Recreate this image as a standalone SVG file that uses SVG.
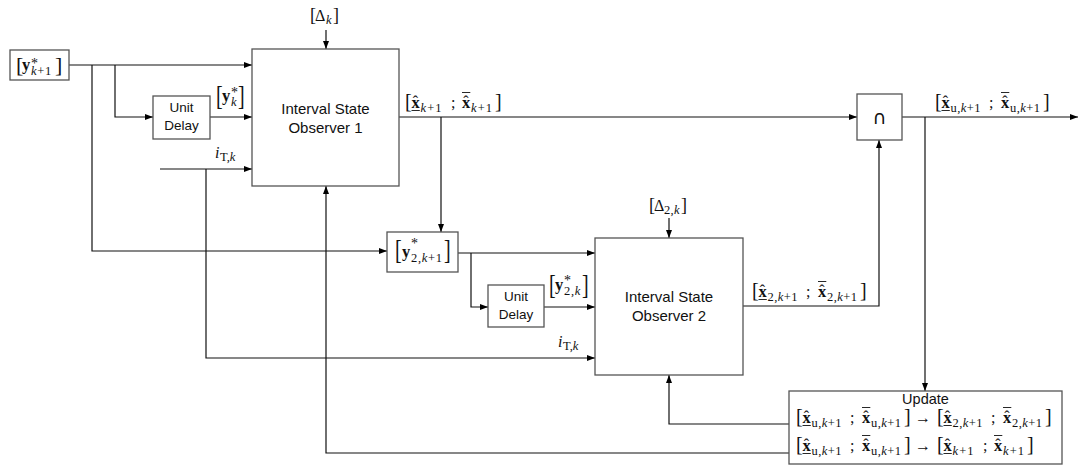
<svg xmlns="http://www.w3.org/2000/svg" width="1078" height="466" viewBox="0 0 1078 466">
<defs>
<marker id="ah" markerWidth="9" markerHeight="8" refX="8" refY="4" orient="auto" markerUnits="userSpaceOnUse"><path d="M0,1 L8,4 L0,7 z" fill="#000"/></marker>
<style>
.box{fill:#fff;stroke:#555;stroke-width:1.3}
.ln{fill:none;stroke:#111;stroke-width:1.2}
.arr{marker-end:url(#ah)}
.sf{font-family:"Liberation Sans",Arial,sans-serif;fill:#111;text-anchor:middle}
.t15{font-size:15px}
.t13{font-size:13.5px}
.m{font-family:"Liberation Serif","Times New Roman",serif;font-size:16px;fill:#111}
.mb{font-family:"Liberation Serif","Times New Roman",serif;font-size:16.5px;font-weight:bold;fill:#111}
.mi{font-family:"Liberation Serif","Times New Roman",serif;font-size:16px;font-style:italic;fill:#111}
.s{font-family:"Liberation Serif","Times New Roman",serif;font-size:12.5px;font-style:italic;fill:#111}
.ss{font-family:"Liberation Serif","Times New Roman",serif;fill:#111}
.ast{font-size:14px;font-style:normal}
.sub{font-size:12.5px;font-style:italic;letter-spacing:0.7px}
.rm{font-style:normal}
.br{font-family:"Liberation Serif","Times New Roman",serif;font-size:20px;fill:#111}
.hat{font-family:"Liberation Serif","Times New Roman",serif;font-size:16px;fill:#111;text-anchor:middle}
.bar{fill:#111}
</style>
</defs>

<!-- connectors -->
<g id="connectors">
<path class="ln arr" d="M69,65 H252"/>
<path class="ln arr" d="M92,65 V251 H387"/>
<path class="ln arr" d="M115,65 V117 H153"/>
<path class="ln arr" d="M210,117 H252"/>
<path class="ln arr" d="M160,169 H252"/>
<path class="ln arr" d="M206,169 V358 H595"/>
<path class="ln arr" d="M326,30 V49"/>
<path class="ln arr" d="M789,453 H326 V186"/>
<path class="ln arr" d="M399,117 H857"/>
<path class="ln arr" d="M441,117 V232"/>
<path class="ln arr" d="M458,253 H595"/>
<path class="ln arr" d="M471,253 V307 H488"/>
<path class="ln arr" d="M544,307 H595"/>
<path class="ln arr" d="M669,218 V238"/>
<path class="ln arr" d="M743,306 H879 V140"/>
<path class="ln arr" d="M902,117 H1078"/>
<path class="ln arr" d="M925,117 V391"/>
<path class="ln arr" d="M789,424 H669 V375"/>
</g>

<!-- input y*_{k+1} -->
<g id="y-in">
<rect class="box" x="10" y="50" width="59" height="30"/>
<text class="br" x="16" y="72" style="font-size:22px">[</text>
<text class="mb" x="22" y="70">y</text>
<text class="ss"><tspan class="ast" x="31" y="68">*</tspan><tspan class="sub" x="31" y="75">k<tspan class="rm">+1</tspan></tspan></text>
<text class="br" x="55" y="72" style="font-size:22px">]</text>
</g>

<!-- unit delay 1 -->
<g id="delay1">
<rect class="box" x="153" y="96" width="57" height="43"/>
<text class="sf t13" x="181.5" y="112">Unit</text>
<text class="sf t13" x="181.5" y="130">Delay</text>
</g>

<!-- label y*_k -->
<g id="lbl-yk">
<text class="br" transform="translate(216,105) scale(1,1.35)">[</text>
<text class="mb" x="222" y="101">y</text>
<text class="ss"><tspan class="ast" x="231" y="97">*</tspan><tspan class="sub" x="231" y="106">k</tspan></text>
<text class="br" transform="translate(238,105) scale(1,1.35)">]</text>
</g>

<!-- i_T,k labels -->
<g id="lbl-it1">
<text class="mi" x="215" y="158">i</text>
<text class="s" x="220" y="161"><tspan class="rm">T,</tspan>k</text>
</g>
<g id="lbl-it2">
<text class="mi" x="558" y="347">i</text>
<text class="s" x="563" y="350"><tspan class="rm">T,</tspan>k</text>
</g>

<!-- Delta_k -->
<g id="lbl-dk">
<text class="br" x="310" y="21" style="font-size:18px">[</text>
<text class="m" x="315" y="21">Δ</text>
<text class="s" x="326" y="24">k</text>
<text class="br" x="333" y="21" style="font-size:18px">]</text>
</g>

<!-- Observer 1 -->
<g id="obs1">
<rect class="box" x="252" y="49" width="147" height="137"/>
<text class="sf t15" x="325.5" y="114">Interval State</text>
<text class="sf t15" x="325.5" y="133">Observer 1</text>
</g>

<!-- label x_{k+1} -->
<g id="lbl-xk1" transform="translate(405,108)">
<text class="br" x="0" y="0">[</text>
<text class="mb" x="6.5" y="0">x</text><text class="hat" x="10.5" y="-1">ˆ</text><rect class="bar" x="6.5" y="2" width="8.3" height="0.9"/>
<text class="s" x="15.5" y="3.5" textLength="21">k<tspan class="rm">+1</tspan></text>
<text class="m" x="46" y="0">;</text>
<text class="mb" x="57" y="0">x</text><text class="hat" x="61" y="-1">ˆ</text><rect class="bar" x="57" y="-16" width="8.3" height="0.9"/>
<text class="s" x="66" y="3.5" textLength="21">k<tspan class="rm">+1</tspan></text>
<text class="br" x="90" y="0">]</text>
</g>

<!-- intersection -->
<g id="cap">
<rect class="box" x="857" y="94" width="45" height="46"/>
<text x="879.5" y="124" style="font-family:'DejaVu Sans',sans-serif;font-size:19px;text-anchor:middle;fill:#111">∩</text>
</g>

<!-- label x_u -->
<g id="lbl-xu" transform="translate(935,108)">
<text class="br" x="0" y="0">[</text>
<text class="mb" x="6.5" y="0">x</text><text class="hat" x="10.5" y="-1">ˆ</text><rect class="bar" x="6.5" y="2" width="8.3" height="0.9"/>
<text class="s" x="15.5" y="3.5" textLength="30"><tspan class="rm">u,</tspan>k<tspan class="rm">+1</tspan></text>
<text class="m" x="54" y="0">;</text>
<text class="mb" x="66" y="0">x</text><text class="hat" x="70" y="-1">ˆ</text><rect class="bar" x="66" y="-16" width="8.3" height="0.9"/>
<text class="s" x="75" y="3.5" textLength="30"><tspan class="rm">u,</tspan>k<tspan class="rm">+1</tspan></text>
<text class="br" x="108" y="0">]</text>
</g>

<!-- y*_{2,k+1} -->
<g id="y2-in">
<rect class="box" x="387" y="232" width="71" height="40"/>
<text class="br" transform="translate(395,259) scale(1,1.4)">[</text>
<text class="mb" x="402" y="257">y</text>
<text class="ss"><tspan class="ast" x="411" y="248">*</tspan><tspan class="sub" x="411" y="262"><tspan class="rm">2,</tspan>k<tspan class="rm">+1</tspan></tspan></text>
<text class="br" transform="translate(444,259) scale(1,1.4)">]</text>
</g>

<!-- unit delay 2 -->
<g id="delay2">
<rect class="box" x="488" y="285" width="56" height="42"/>
<text class="sf t13" x="516" y="301">Unit</text>
<text class="sf t13" x="516" y="319">Delay</text>
</g>

<!-- y*_{2,k} -->
<g id="lbl-y2k">
<text class="br" transform="translate(549,294) scale(1,1.35)">[</text>
<text class="mb" x="555" y="290">y</text>
<text class="ss"><tspan class="ast" x="564" y="285">*</tspan><tspan class="sub" x="564" y="295"><tspan class="rm">2,</tspan>k</tspan></text>
<text class="br" transform="translate(582,294) scale(1,1.35)">]</text>
</g>

<!-- Delta_2,k -->
<g id="lbl-d2k">
<text class="br" x="649" y="211" style="font-size:18px">[</text>
<text class="m" x="654" y="211">Δ</text>
<text class="s" x="664" y="214" textLength="15.5"><tspan class="rm">2,</tspan>k</text>
<text class="br" x="681" y="211" style="font-size:18px">]</text>
</g>

<!-- Observer 2 -->
<g id="obs2">
<rect class="box" x="595" y="238" width="148" height="137"/>
<text class="sf t15" x="669" y="302">Interval State</text>
<text class="sf t15" x="669" y="321">Observer 2</text>
</g>

<!-- label x_2 -->
<g id="lbl-x2" transform="translate(752,297)">
<text class="br" x="0" y="0">[</text>
<text class="mb" x="6.5" y="0">x</text><text class="hat" x="10.5" y="-1">ˆ</text><rect class="bar" x="6.5" y="2" width="8.3" height="0.9"/>
<text class="s" x="15.5" y="3.5" textLength="30"><tspan class="rm">2,</tspan>k<tspan class="rm">+1</tspan></text>
<text class="m" x="54" y="0">;</text>
<text class="mb" x="66" y="0">x</text><text class="hat" x="70" y="-1">ˆ</text><rect class="bar" x="66" y="-16" width="8.3" height="0.9"/>
<text class="s" x="75" y="3.5" textLength="30"><tspan class="rm">2,</tspan>k<tspan class="rm">+1</tspan></text>
<text class="br" x="108" y="0">]</text>
</g>

<!-- Update -->
<g id="update">
<rect class="box" x="789" y="391" width="273" height="73"/>
<text class="sf" x="925.5" y="404" style="font-size:14.5px">Update</text>
<g transform="translate(796,423)">
<text class="br" x="0" y="0">[</text>
<text class="mb" x="6.5" y="0">x</text><text class="hat" x="10.5" y="-1">ˆ</text><rect class="bar" x="6.5" y="2" width="8.3" height="0.9"/>
<text class="s" x="15.5" y="3.5" textLength="30"><tspan class="rm">u,</tspan>k<tspan class="rm">+1</tspan></text>
<text class="m" x="54" y="0">;</text>
<text class="mb" x="66" y="0">x</text><text class="hat" x="70" y="-1">ˆ</text><rect class="bar" x="66" y="-16" width="8.3" height="0.9"/>
<text class="s" x="75" y="3.5" textLength="30"><tspan class="rm">u,</tspan>k<tspan class="rm">+1</tspan></text>
<text class="br" x="108" y="0">]</text>
<text class="m" x="119" y="0">→</text>
<g transform="translate(141,0)">
<text class="br" x="0" y="0">[</text>
<text class="mb" x="6.5" y="0">x</text><text class="hat" x="10.5" y="-1">ˆ</text><rect class="bar" x="6.5" y="2" width="8.3" height="0.9"/>
<text class="s" x="15.5" y="3.5" textLength="30"><tspan class="rm">2,</tspan>k<tspan class="rm">+1</tspan></text>
<text class="m" x="54" y="0">;</text>
<text class="mb" x="66" y="0">x</text><text class="hat" x="70" y="-1">ˆ</text><rect class="bar" x="66" y="-16" width="8.3" height="0.9"/>
<text class="s" x="75" y="3.5" textLength="30"><tspan class="rm">2,</tspan>k<tspan class="rm">+1</tspan></text>
<text class="br" x="108" y="0">]</text>
</g>
</g>
<g transform="translate(796,451)">
<text class="br" x="0" y="0">[</text>
<text class="mb" x="6.5" y="0">x</text><text class="hat" x="10.5" y="-1">ˆ</text><rect class="bar" x="6.5" y="2" width="8.3" height="0.9"/>
<text class="s" x="15.5" y="3.5" textLength="30"><tspan class="rm">u,</tspan>k<tspan class="rm">+1</tspan></text>
<text class="m" x="54" y="0">;</text>
<text class="mb" x="66" y="0">x</text><text class="hat" x="70" y="-1">ˆ</text><rect class="bar" x="66" y="-16" width="8.3" height="0.9"/>
<text class="s" x="75" y="3.5" textLength="30"><tspan class="rm">u,</tspan>k<tspan class="rm">+1</tspan></text>
<text class="br" x="108" y="0">]</text>
<text class="m" x="119" y="0">→</text>
<g transform="translate(141,0)">
<text class="br" x="0" y="0">[</text>
<text class="mb" x="6.5" y="0">x</text><text class="hat" x="10.5" y="-1">ˆ</text><rect class="bar" x="6.5" y="2" width="8.3" height="0.9"/>
<text class="s" x="15.5" y="3.5" textLength="21">k<tspan class="rm">+1</tspan></text>
<text class="m" x="46" y="0">;</text>
<text class="mb" x="57" y="0">x</text><text class="hat" x="61" y="-1">ˆ</text><rect class="bar" x="57" y="-16" width="8.3" height="0.9"/>
<text class="s" x="66" y="3.5" textLength="21">k<tspan class="rm">+1</tspan></text>
<text class="br" x="90" y="0">]</text>
</g>
</g>
</g>
</svg>
